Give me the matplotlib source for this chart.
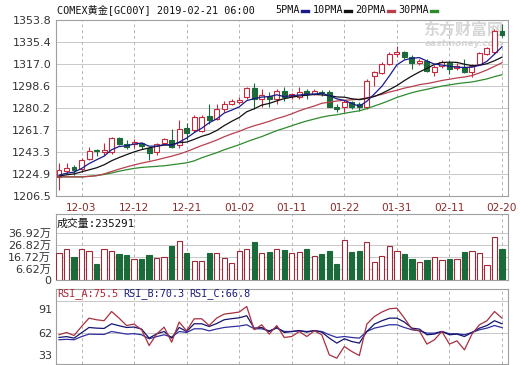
import numpy as np
import matplotlib
matplotlib.use('Agg')
import matplotlib.pyplot as plt
from matplotlib.lines import Line2D

# ---- data ----
date_labels = ['12-03', '12-12', '12-21', '01-02', '01-11', '01-22', '01-31', '02-11', '02-20']
date_idx = [3, 10, 17, 24, 31, 38, 45, 52, 59]

opens = [1222.5, 1227.5, 1230.9, 1229.2, 1237.6, 1245.2, 1243.5, 1243.5, 1255.3, 1250.3,
         1250.3, 1251.1, 1246.9, 1243.5, 1251.1, 1253.6, 1249.4, 1263.7, 1262.1, 1261.2,
         1273.8, 1271.3, 1278.9, 1283.9, 1284.8, 1289.0, 1296.6, 1287.3, 1289.8, 1287.3,
         1294.0, 1289.8, 1289.0, 1294.0, 1291.5, 1293.2, 1293.2, 1281.4, 1281.4, 1284.8,
         1283.1, 1280.6, 1306.7, 1309.2, 1316.8, 1325.2, 1326.9, 1322.7, 1317.6, 1319.3,
         1310.0, 1315.1, 1317.6, 1313.4, 1314.2, 1310.0, 1316.8, 1325.2, 1326.9, 1344.5]
highs = [1234.3, 1234.3, 1232.6, 1238.5, 1247.7, 1245.6, 1251.1, 1256.2, 1256.2, 1253.6,
         1254.5, 1252.0, 1247.7, 1251.1, 1255.3, 1262.9, 1270.5, 1267.9, 1274.7, 1274.7,
         1283.1, 1283.1, 1285.6, 1288.1, 1289.0, 1297.4, 1300.8, 1295.7, 1293.2, 1295.7,
         1297.4, 1292.4, 1297.4, 1295.7, 1295.7, 1294.9, 1294.9, 1283.1, 1286.5, 1285.6,
         1284.8, 1304.1, 1310.9, 1318.5, 1326.9, 1331.9, 1327.7, 1324.3, 1321.0, 1321.0,
         1315.9, 1320.1, 1319.3, 1317.6, 1321.0, 1316.8, 1326.9, 1331.0, 1346.2, 1350.4]
lows = [1211.6, 1225.9, 1224.0, 1226.7, 1236.8, 1240.2, 1241.0, 1242.0, 1249.4, 1246.0,
        1246.9, 1246.0, 1236.8, 1241.0, 1250.3, 1247.0, 1246.9, 1253.6, 1260.4, 1260.0,
        1267.0, 1270.5, 1277.2, 1282.3, 1283.1, 1287.3, 1279.7, 1281.4, 1281.4, 1283.1,
        1285.6, 1287.3, 1288.1, 1287.3, 1290.7, 1290.0, 1280.6, 1276.4, 1276.4, 1278.9,
        1278.0, 1278.9, 1298.2, 1308.3, 1315.9, 1322.7, 1321.0, 1312.6, 1315.9, 1310.0,
        1306.7, 1313.4, 1308.3, 1311.7, 1309.2, 1305.8, 1315.9, 1324.3, 1325.2, 1339.5]
closes = [1228.4, 1230.1, 1228.4, 1236.8, 1244.4, 1244.4, 1245.0, 1255.3, 1250.3, 1247.7,
          1251.9, 1248.6, 1242.7, 1250.3, 1254.5, 1247.7, 1262.9, 1259.5, 1273.0, 1273.0,
          1270.5, 1278.9, 1283.9, 1285.6, 1286.5, 1296.6, 1287.3, 1290.7, 1287.3, 1294.0,
          1289.0, 1291.5, 1293.2, 1291.5, 1294.0, 1292.4, 1281.4, 1279.7, 1284.8, 1281.4,
          1280.6, 1302.5, 1310.0, 1316.8, 1325.2, 1326.9, 1322.7, 1317.6, 1319.3, 1310.9,
          1314.2, 1318.5, 1312.6, 1315.1, 1310.0, 1315.1, 1326.0, 1330.2, 1344.5, 1341.2]

ma5 = [1224.0, 1225.5, 1226.5, 1229.5, 1233.6, 1236.8, 1239.8, 1245.2, 1247.9, 1248.5,
       1250.0, 1250.8, 1248.2, 1248.2, 1249.6, 1248.8, 1251.6, 1255.0, 1259.5, 1263.2,
       1267.8, 1271.0, 1275.9, 1278.4, 1281.1, 1286.3, 1288.0, 1289.3, 1289.7, 1291.2,
       1289.7, 1290.5, 1291.0, 1291.8, 1291.8, 1292.5, 1290.5, 1287.8, 1286.5, 1283.9,
       1281.6, 1285.8, 1291.9, 1298.3, 1307.0, 1316.3, 1320.3, 1321.8, 1322.3, 1319.5,
       1316.9, 1316.1, 1315.1, 1314.3, 1314.1, 1314.3, 1315.8, 1319.3, 1325.2, 1331.4]
ma10 = [1223.3, 1224.2, 1225.0, 1226.7, 1228.4, 1230.1, 1232.6, 1236.0, 1238.7, 1241.1,
        1243.4, 1245.3, 1246.7, 1248.1, 1249.1, 1249.4, 1251.2, 1251.6, 1253.9, 1256.4,
        1258.3, 1261.3, 1265.4, 1269.0, 1272.2, 1277.0, 1279.5, 1282.6, 1284.0, 1286.1,
        1288.0, 1289.2, 1290.2, 1290.8, 1291.5, 1291.1, 1290.5, 1289.4, 1289.2, 1287.9,
        1287.1, 1288.2, 1289.8, 1292.4, 1295.5, 1298.9, 1303.1, 1306.9, 1310.3, 1313.3,
        1316.6, 1318.2, 1318.5, 1318.3, 1316.8, 1315.6, 1315.9, 1317.2, 1319.7, 1322.7]
ma20 = [1222.5, 1222.5, 1222.5, 1222.5, 1222.9, 1223.5, 1225.0, 1227.0, 1229.0, 1230.8,
        1232.5, 1234.0, 1235.3, 1236.7, 1238.3, 1239.8, 1241.6, 1243.7, 1246.2, 1248.7,
        1250.9, 1253.3, 1256.1, 1258.5, 1260.6, 1263.2, 1265.3, 1267.1, 1269.0, 1271.3,
        1273.1, 1275.3, 1277.8, 1279.9, 1281.8, 1284.1, 1285.0, 1286.0, 1286.6, 1287.0,
        1287.5, 1288.7, 1290.0, 1291.6, 1293.5, 1295.0, 1296.8, 1298.1, 1299.7, 1300.6,
        1301.8, 1303.2, 1304.2, 1305.3, 1306.1, 1307.3, 1309.5, 1312.0, 1315.0, 1318.0]
ma30 = [1222.5, 1222.5, 1222.5, 1222.5, 1223.0, 1223.6, 1224.5, 1225.8, 1227.2, 1228.5,
        1229.6, 1230.4, 1230.9, 1231.3, 1231.8, 1232.6, 1233.4, 1234.3, 1235.9, 1238.5,
        1240.6, 1242.7, 1245.2, 1247.3, 1249.4, 1251.9, 1254.1, 1256.2, 1258.7, 1261.2,
        1263.2, 1265.3, 1267.4, 1269.3, 1270.9, 1272.5, 1273.7, 1274.5, 1275.7, 1276.8,
        1277.8, 1279.6, 1281.8, 1284.0, 1286.4, 1289.0, 1291.0, 1293.0, 1294.5, 1295.8,
        1297.2, 1298.5, 1299.5, 1300.5, 1301.3, 1301.9, 1303.2, 1304.5, 1306.4, 1308.0]

# volume in 万 (10k lots)
volume = [19.9, 23.2, 16.5, 23.2, 21.5, 10.9, 23.8, 21.5, 19.3, 18.4,
          14.9, 14.9, 18.4, 15.6, 16.5, 26.0, 30.2, 19.9, 13.4, 13.4,
          19.9, 19.9, 15.6, 12.0, 22.0, 23.2, 29.7, 20.3, 21.2, 23.2,
          22.7, 20.3, 21.0, 23.5, 17.6, 19.3, 21.8, 10.9, 31.0, 21.2,
          22.0, 29.1, 12.3, 17.6, 26.0, 21.8, 19.3, 15.1, 12.3, 14.2,
          16.5, 14.2, 15.1, 14.9, 20.8, 21.8, 19.9, 10.0, 33.3, 23.53]

rsi_a = [60.2, 62.3, 59.5, 67.8, 75.5, 74.0, 73.1, 81.6, 75.5, 68.7,
         70.0, 64.8, 50.3, 60.8, 67.2, 53.4, 71.9, 63.8, 74.9, 74.9,
         68.7, 75.5, 79.2, 80.1, 81.1, 86.2, 64.8, 69.4, 60.8, 68.7,
         57.7, 58.6, 63.2, 58.6, 63.8, 60.2, 41.7, 38.7, 49.4, 44.8,
         41.1, 70.0, 77.0, 81.1, 84.1, 84.7, 75.5, 65.4, 63.8, 51.6,
         55.6, 63.2, 51.6, 54.6, 46.3, 60.8, 69.4, 73.1, 81.6, 75.5]
rsi_b = [57.7, 58.5, 57.1, 62.0, 66.9, 66.3, 66.0, 70.3, 68.5, 66.9,
         67.3, 65.4, 57.1, 61.0, 63.2, 57.1, 66.9, 63.2, 70.3, 70.3,
         67.8, 70.5, 74.0, 75.0, 75.8, 77.7, 66.3, 66.9, 63.2, 66.9,
         62.3, 63.2, 64.1, 62.6, 64.1, 62.6, 57.1, 52.5, 56.5, 54.0,
         52.5, 63.2, 70.0, 73.1, 75.5, 75.5, 71.9, 66.3, 65.4, 60.2,
         60.8, 63.2, 60.2, 60.8, 58.6, 62.3, 66.3, 68.7, 73.1, 70.3]
rsi_c = [55.6, 56.0, 55.6, 58.5, 60.8, 60.6, 60.5, 63.2, 62.0, 60.8,
         61.2, 60.2, 56.5, 58.5, 60.2, 58.0, 63.2, 62.3, 65.7, 65.7,
         63.8, 65.5, 66.9, 67.6, 68.2, 69.4, 65.7, 65.7, 63.8, 66.3,
         63.2, 63.2, 63.8, 63.2, 63.8, 63.2, 60.2, 57.7, 58.6, 57.7,
         57.1, 63.2, 66.3, 67.8, 69.4, 69.4, 66.9, 64.8, 63.8, 61.7,
         61.7, 63.2, 61.1, 61.1, 60.2, 62.3, 64.8, 66.3, 68.7, 66.8]

price_ticks = [1206.5, 1224.9, 1243.3, 1261.7, 1280.2, 1298.6, 1317.0, 1335.4, 1353.8]
vol_ticks = [6.62, 16.72, 26.82, 36.92]
vol_labels = ['6.62万', '16.72万', '26.82万', '36.92万']

# ---- style ----
plt.rcParams['font.family'] = ['DejaVu Sans', 'Noto Sans CJK SC']
MONO = ['DejaVu Sans Mono', 'Noto Sans CJK SC']
UP = '#c8283c'
DOWN = '#1b6b3a'
VUP = '#a02838'
GRID = '#c8c8c8'
VGRID = '#b4b4b4'
SPINE = '#a0a0a0'
DATE_C = '#8b2a2a'
MA_C = ['#1a1a8c', '#111111', '#b8404e', '#2e8b2e']

W, H = 520, 365
fig = plt.figure(figsize=(W / 100, H / 100), dpi=100)


def ax_at(left, top, right, bottom):
    return fig.add_axes([left / W, 1 - bottom / H, (right - left) / W, (bottom - top) / H])


ax = ax_at(56, 20, 508, 196)
axv = ax_at(56, 214, 508, 280)
axr = ax_at(56, 289, 508, 364)

x = np.arange(len(closes))
o = np.array(opens)
c = np.array(closes)
up = c >= o

for a in (ax, axv, axr):
    a.set_xlim(-0.4, 59.8)
    for s in a.spines.values():
        s.set_color(SPINE)
        s.set_linewidth(0.8)
    a.tick_params(length=0, labelsize=8, colors='#333333')
    for i in date_idx:
        a.axvline(i, color=VGRID, lw=0.7, ls=(0, (3, 3)), zorder=1)

# ---- price panel ----
ax.set_ylim(1206.5, 1353.8)
ax.set_yticks(price_ticks)
ax.set_yticklabels([f'{t:.1f}' for t in price_ticks])
ax.yaxis.grid(True, color=GRID, lw=0.7)
ax.set_axisbelow(True)
ax.set_xticks(date_idx)
ax.set_xticklabels(date_labels, color=DATE_C, fontsize=7.6)
ax.tick_params(axis='x', pad=5)

ax.text(0.99, 0.945, '东方财富网', transform=ax.transAxes, ha='right', va='center',
        fontsize=11.5, color='#d6d6d6', fontweight='bold', family=['Noto Sans CJK SC'], zorder=1)
ax.text(0.99, 0.865, 'eastmoney.com', transform=ax.transAxes, ha='right', va='center',
        fontsize=6.5, color='#d6d6d6', style='italic', fontweight='bold', zorder=1)

ax.vlines(x, lows, highs, colors=np.where(up, UP, DOWN), lw=0.8, zorder=3)
body = np.maximum(np.abs(c - o), 0.5)
ax.bar(x, body, bottom=np.minimum(o, c), width=0.66,
       color=np.where(up, 'white', DOWN), edgecolor=np.where(up, UP, DOWN),
       linewidth=0.8, zorder=4)
for ma, col in zip([ma30, ma20, ma10, ma5], MA_C[::-1]):
    ax.plot(x, ma, color=col, lw=0.9, zorder=5)

# ---- volume panel ----
vbot = -2.6
axv.set_ylim(vbot, 52.9)
axv.set_yticks([vbot] + vol_ticks)
axv.set_yticklabels(['0'] + vol_labels)
axv.yaxis.grid(True, color=GRID, lw=0.7)
axv.set_axisbelow(True)
axv.set_xticks([])
axv.bar(x, np.array(volume) - vbot, bottom=vbot, width=0.7,
        color=np.where(up, 'white', DOWN), edgecolor=np.where(up, VUP, DOWN),
        linewidth=0.8, zorder=3)

# ---- RSI panel ----
axr.set_ylim(33.3, 102.3)
axr.set_yticks([91, 62])
axr.set_yticklabels([])
axr.yaxis.grid(True, color=GRID, lw=0.7)
axr.set_axisbelow(True)
axr.set_xticks([])
axr.plot(x, rsi_c, color='#3030a0', lw=0.9, zorder=3)
axr.plot(x, rsi_b, color='#141470', lw=0.9, zorder=3)
axr.plot(x, rsi_a, color='#a83040', lw=0.9, zorder=4)
for lab, ypx in [('91', 310), ('62', 334), ('33', 356)]:
    fig.text(52 / W, 1 - ypx / H, lab, ha='right', va='center', fontsize=8, color='#333333')

# ---- header texts ----
fig.text(57 / W, 1 - 10 / H, 'COMEX黄金[GC00Y] 2019-02-21 06:00', family=MONO,
         fontsize=7.3, va='center', ha='left', color='#111111')
legend = [('5PMA', 275, 302, 308), ('10PMA', 313, 345, 351),
          ('20PMA', 355, 388, 394), ('30PMA', 398, 431, 437)]
for (lab, tx, d0, d1), col in zip(legend, MA_C):
    fig.text(tx / W, 1 - 10 / H, lab, family=MONO, fontsize=7.3, va='center', ha='left', color='#111111')
    fig.add_artist(Line2D([d0 / W, d1 / W], [1 - 10.5 / H] * 2, color=col, lw=2.4,
                          transform=fig.transFigure))

fig.text(57 / W, 1 - 224 / H, '成交量:235291', family=MONO, fontsize=7.8,
         va='center', ha='left', color='#111111')
fig.text(57 / W, 1 - 294 / H, 'RSI_A:75.5', family=MONO, fontsize=7.3,
         va='center', ha='left', color='#b22234')
fig.text(123 / W, 1 - 294 / H, 'RSI_B:70.3', family=MONO, fontsize=7.3,
         va='center', ha='left', color='#1c1c7a')
fig.text(189 / W, 1 - 294 / H, 'RSI_C:66.8', family=MONO, fontsize=7.3,
         va='center', ha='left', color='#1c1c7a')

fig.savefig('out.png', dpi=100, facecolor='white')
